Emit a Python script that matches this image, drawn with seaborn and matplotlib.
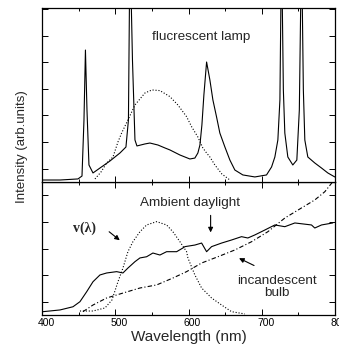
import numpy as np
import pandas as pd
import matplotlib
matplotlib.use("Agg")
import matplotlib.pyplot as plt
from matplotlib.transforms import ScaledTranslation
import seaborn as sns

# ---------------- data ----------------
# upper panel: fluorescent lamp spectrum
fl_wl = [400, 424.6, 449.1, 454.6, 457.3, 459.3, 461.4, 464.1, 469.6, 479.1,
         492.8, 506.4, 514.6, 518, 520.1, 523.5, 526.9, 529.6, 540.5, 547.3,
         558.3, 567.8, 574.6, 588.3, 601.9, 608.7, 612.8, 615.6, 618.3, 621,
         624.7, 629.2, 633.3, 638.3, 642.8, 649.7, 656.5, 663.3, 674.2, 690.6,
         706.5, 713.4, 717.9, 722, 724.8, 727, 729.5, 731.5, 735.6, 742.4,
         747.9, 751.3, 754.3, 756.8, 758.8, 762.9, 772.4, 781.6, 790.2, 799.7]
fl_int = [1.5, 1.5, 2.3, 4.5, 46.6, 99.2, 54.1, 12.8, 6.8, 10.5,
          15.8, 21.8, 26.3, 46.6, 180, 91.7, 31.6, 27.1, 28.6, 29.3,
          27.8, 25.6, 24.1, 20.3, 17.3, 18.0, 21.8, 27.8, 42.9, 65.4,
          90.2, 76.7, 61.7, 48.9, 36.8, 26.3, 16.5, 9.0, 5.3, 3.8,
          5.3, 11.3, 18.8, 31.6, 61.7, 180, 69.2, 36.8, 18.8, 12.8,
          16.5, 54.1, 180, 69.2, 31.6, 18.8, 14.3, 10.5, 6.8, 3.8]

# upper panel: dotted eye-sensitivity weighted curve
vu_wl = [472.3, 480.5, 488.3, 496.9, 503.7, 508.7, 517.3, 526.9, 540.5, 550.1,
         561, 574.6, 585.5, 597.4, 604.2, 612.8, 619.6, 624.7, 629.2, 636,
         645.6, 656.5]
vu_int = [2.3, 7.5, 14.3, 18.8, 30.1, 36.8, 46.6, 57.9, 66.9, 69.2,
          68.7, 64.2, 57.9, 49.1, 41.6, 33.8, 25.6, 21.8, 18.8, 12.8,
          6.0, 1.5]

# lower panel: ambient daylight
day_wl = [401.4, 424.6, 442.3, 451.8, 461, 469.6, 479.1, 488.3, 501.9, 510.5,
          517.3, 526.9, 533.7, 542.8, 551.4, 561, 570.1, 583.8, 592.4, 595.1,
          608.7, 617.9, 624.7, 631.5, 645.2, 658.8, 672.4, 681, 690.6, 704.2,
          717.9, 731.5, 745.2, 767.9, 772.4, 781.6, 797]
day_int = [2.5, 3.8, 6.2, 10.0, 17.5, 25.0, 30.1, 31.6, 32.6, 31.6,
           35.3, 40.1, 42.9, 43.8, 46.6, 45.1, 47.6, 47.6, 50.4, 51.4,
           52.6, 54.1, 47.6, 51.4, 54.1, 56.4, 58.9, 57.9, 60.2, 63.9,
           67.7, 66.4, 69.2, 67.7, 65.4, 67.7, 69.2]

# lower panel: V(lambda)
v_wl = [451.8, 469.6, 486, 495.5, 503.7, 510.5, 517.3, 524.1, 533.7, 542.8,
        556.5, 570.1, 578.7, 588.3, 597.4, 599.2, 608.7, 617.9, 631.5, 645.2,
        658.8, 676.9]
v_int = [3.0, 3.0, 5.3, 11.3, 25.0, 35.3, 47.6, 55.1, 62.6, 67.7,
         70.2, 67.7, 62.6, 55.1, 47.6, 42.9, 30.1, 20.3, 12.8, 7.5,
         2.5, 0.8]

# lower panel: incandescent bulb
inc_wl = [455.9, 469.6, 488.3, 510.5, 533.7, 556.5, 578.7, 597.4, 617.9, 640.1,
          663.3, 686.1, 708.3, 731.5, 754.3, 772.4, 786.1, 797]
inc_int = [2.5, 7.5, 12.8, 16.5, 20.3, 22.6, 27.8, 32.6, 39.1, 43.8,
           48.9, 55.1, 62.6, 72.9, 80.5, 86.5, 92.7, 100.2]

x_ticks = [400, 500, 600, 700, 800]
x_labels = ["400", "500", "600", "700", "800"]

# ---------------- style ----------------
sns.set_style("ticks")
plt.rcParams['font.family'] = ['Liberation Sans', 'DejaVu Sans']

fig = plt.figure(figsize=(3.39, 3.56), dpi=100)
ax_lo = fig.add_axes([42/339, 1-315/356, 293/339, 133/356])
ax_up = fig.add_axes([42/339, 1-182/356, 293/339, 174/356])

lw = 0.8
sns.lineplot(x=fl_wl, y=fl_int, ax=ax_up, color='k', lw=lw, sort=False)
sns.lineplot(x=vu_wl, y=vu_int, ax=ax_up, color='k', lw=lw, linestyle=':', sort=False)

sns.lineplot(x=day_wl, y=day_int, ax=ax_lo, color='k', lw=lw, sort=False)
sns.lineplot(x=v_wl, y=v_int, ax=ax_lo, color='k', lw=lw, linestyle=':', sort=False)
sns.lineplot(x=inc_wl, y=inc_int, ax=ax_lo, color='k', lw=lw,
             linestyle=(0, (4, 2, 1, 2)), sort=False)

for ax in (ax_up, ax_lo):
    ax.set_xlim(400, 800)
    for s in ax.spines.values():
        s.set_linewidth(0.9)
        s.set_color('k')
    ax.tick_params(which='both', direction='in', top=True, right=True,
                   width=0.7, colors='k')
    ax.tick_params(which='major', length=4)
    ax.tick_params(which='minor', length=2)
    ax.set_xticks(np.arange(450, 800, 50), minor=True)
    ax.set_xticks(x_ticks)

ax_up.set_ylim(0, 130.8)
ax_up.set_yticks([10, 30, 50, 70, 90, 110, 130])
ax_up.set_yticklabels([])
ax_up.set_xticklabels([])
ax_lo.set_ylim(0, 100)
ax_lo.set_yticks([10, 30, 50, 70, 90])
ax_lo.set_yticklabels([])
ax_lo.set_xticklabels(x_labels, fontsize=7.5)
ax_lo.tick_params(axis='x', pad=2.5)
for lab in ax_lo.get_xticklabels():
    lab.set_transform(lab.get_transform() + ScaledTranslation(4/100, 0, fig.dpi_scale_trans))

ax_lo.set_xlabel("Wavelength (nm)", fontsize=11, labelpad=1)
ax_up.set_ylabel("")
ax_lo.set_ylabel("")
fig.text(22/339, 1-147/356, "Intensity (arb.units)", rotation=90,
         ha='center', va='center', fontsize=9.5)

# annotations
ax_up.text(616.9, 109, "flucrescent lamp", ha='center', va='center', fontsize=9.7)
ax_lo.text(601.9, 84.2, "Ambient daylight", ha='center', va='center', fontsize=9.7)
ax_lo.annotate("", xy=(630.2, 60), xytext=(630.2, 77),
               arrowprops=dict(arrowstyle='-|>', color='k', lw=0.8, mutation_scale=7))
ax_lo.text(458.7, 65.4, "v(λ)", ha='center', va='center', fontsize=10,
           family=['Liberation Serif', 'DejaVu Serif'], fontweight='bold')
ax_lo.annotate("", xy=(509.1, 54.9), xytext=(488.7, 63.9),
               arrowprops=dict(arrowstyle='-|>', color='k', lw=0.8, mutation_scale=7))
ax_lo.text(721, 21, "incandescent\nbulb", ha='center', va='center', fontsize=9.7,
           linespacing=1.05)
ax_lo.annotate("", xy=(665.6, 43.6), xytext=(692.9, 36.3),
               arrowprops=dict(arrowstyle='-|>', color='k', lw=0.8, mutation_scale=7))

fig.savefig("out.png", dpi=100)
